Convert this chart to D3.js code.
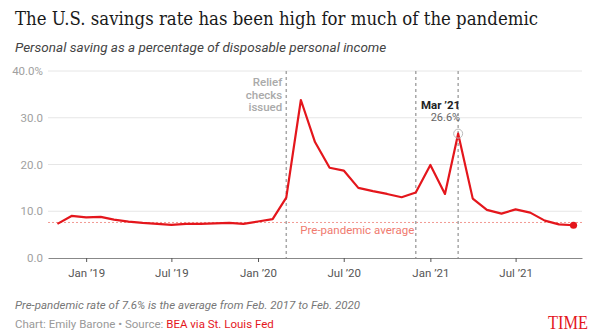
<!DOCTYPE html>
<html>
<head>
<meta charset="utf-8">
<script src="https://cdn.jsdelivr.net/npm/d3@7"></script>
<style>
  body { margin: 0; background: #fff; }
  svg { display: block; font-family: Roboto, sans-serif; }
</style>
</head>
<body>
<svg id="chart" width="600" height="334"></svg>
<script>
// monthly personal saving rate, % of disposable income
const months = [
  "2018-11", "2018-12",
  "2019-01", "2019-02", "2019-03", "2019-04", "2019-05", "2019-06",
  "2019-07", "2019-08", "2019-09", "2019-10", "2019-11", "2019-12",
  "2020-01", "2020-02", "2020-03", "2020-04", "2020-05", "2020-06",
  "2020-07", "2020-08", "2020-09", "2020-10", "2020-11", "2020-12",
  "2021-01", "2021-02", "2021-03", "2021-04", "2021-05", "2021-06",
  "2021-07", "2021-08", "2021-09", "2021-10", "2021-11"
];
const savingRate = [
  7.3, 9.0,
  8.7, 8.8, 8.2, 7.8, 7.5, 7.3,
  7.1, 7.3, 7.3, 7.4, 7.5, 7.3,
  7.8, 8.3, 12.9, 33.8, 24.8, 19.3,
  18.7, 15.0, 14.3, 13.7, 13.0, 14.0,
  19.9, 13.7, 26.6, 12.7, 10.3, 9.5,
  10.4, 9.7, 8.0, 7.2, 7.0
];
const eventMonths = ["2020-03", "2020-12", "2021-03"];
const reliefLabel = ["Relief", "checks", "issued"];
const highlightMonth = "2021-03";
const xTickMonths = ["2019-01", "2019-07", "2020-01", "2020-07", "2021-01", "2021-07"];
const yTicks = [0, 10, 20, 30, 40];
const prePandemicAvg = 7.6;

const svg = d3.select("#chart");
const W = 600, H = 334;
const margin = {top: 71, right: 18, bottom: 76, left: 48};

const parse = d3.timeParse("%Y-%m");
const data = months.map((m, i) => ({date: parse(m), value: savingRate[i]}));

const x = d3.scaleTime()
  .domain([new Date(2018, 9, 12), new Date(2021, 10, 19)])
  .range([margin.left, W - margin.right]);
const y = d3.scaleLinear()
  .domain([0, 40])
  .range([H - margin.bottom, margin.top]);

// title block
svg.append("text")
  .attr("x", 15).attr("y", 25)
  .attr("font-family", "'DejaVu Serif', serif")
  .attr("font-size", 18.5)
  .attr("fill", "#1a1a1a")
  .attr("textLength", 523).attr("lengthAdjust", "spacingAndGlyphs")
  .text("The U.S. savings rate has been high for much of the pandemic");
svg.append("text")
  .attr("x", 15).attr("y", 52)
  .attr("font-size", 13.5).attr("font-style", "italic")
  .attr("fill", "#444")
  .text("Personal saving as a percentage of disposable personal income");

// gridlines + y labels
const grid = svg.append("g");
grid.selectAll("line")
  .data(yTicks.filter(d => d > 0))
  .join("line")
  .attr("x1", margin.left).attr("x2", W - margin.right)
  .attr("y1", d => y(d)).attr("y2", d => y(d))
  .attr("stroke", "#e6e6e6");
grid.selectAll("text")
  .data(yTicks)
  .join("text")
  .attr("x", 43).attr("y", d => y(d) + 4)
  .attr("text-anchor", "end")
  .attr("font-size", 11.5)
  .attr("fill", "#a0a0a0")
  .text(d => d === 40 ? d.toFixed(1) + "%" : d.toFixed(1));

// pre-pandemic average
svg.append("line")
  .attr("x1", margin.left).attr("x2", W - margin.right)
  .attr("y1", y(prePandemicAvg)).attr("y2", y(prePandemicAvg))
  .attr("stroke", "#f29a92").attr("stroke-width", 1)
  .attr("stroke-dasharray", "2,2");
svg.append("text")
  .attr("x", x(parse(eventMonths[0])) + 14)
  .attr("y", y(prePandemicAvg) + 12)
  .attr("font-size", 11.5)
  .attr("fill", "#f07a6f")
  .text("Pre-pandemic average");

// event markers
svg.append("g").selectAll("line")
  .data(eventMonths)
  .join("line")
  .attr("x1", d => x(parse(d))).attr("x2", d => x(parse(d)))
  .attr("y1", y(40)).attr("y2", y(0))
  .attr("stroke", "#a8a8a8").attr("stroke-width", 1.5)
  .attr("stroke-dasharray", "3,3");

const relief = svg.append("text")
  .attr("text-anchor", "end")
  .attr("font-size", 11.5).attr("font-weight", 500)
  .attr("fill", "#aaa");
relief.selectAll("tspan")
  .data(reliefLabel)
  .join("tspan")
  .attr("x", x(parse(eventMonths[0])) - 4)
  .attr("y", (d, i) => y(40) + 15 + i * 12.5)
  .text(d => d);

// x axis
const xAxis = d3.axisBottom(x)
  .tickValues(xTickMonths.map(parse))
  .tickFormat(d3.timeFormat("%b \u2019%y"))
  .tickSize(4).tickSizeOuter(0);
const gx = svg.append("g")
  .attr("transform", `translate(0,${y(0)})`)
  .call(xAxis);
gx.select(".domain").attr("stroke", "#888");
gx.selectAll(".tick line").attr("stroke", "#555");
gx.selectAll(".tick text")
  .attr("font-family", "Roboto, sans-serif")
  .attr("font-size", 11.5).attr("fill", "#555").attr("dy", "1.05em");

// series
svg.append("path")
  .datum(data)
  .attr("fill", "none")
  .attr("stroke", "#e4161c")
  .attr("stroke-width", 2.2)
  .attr("stroke-linejoin", "round")
  .attr("d", d3.line().x(d => x(d.date)).y(d => y(d.value)));

const last = data[data.length - 1];
svg.append("circle")
  .attr("cx", x(last.date)).attr("cy", y(last.value))
  .attr("r", 3.6).attr("fill", "#e4161c");

// highlight callout
const hi = data.find(d => +d.date === +parse(highlightMonth));
svg.append("circle")
  .attr("cx", x(hi.date)).attr("cy", y(hi.value))
  .attr("r", 4.5).attr("fill", "none")
  .attr("stroke", "#bbb").attr("stroke-width", 1);
svg.append("text")
  .attr("x", x(hi.date) + 2).attr("y", y(hi.value) - 25)
  .attr("text-anchor", "end")
  .attr("font-size", 11.5).attr("font-weight", 700).attr("fill", "#222")
  .text(d3.timeFormat("%b \u2019%y")(hi.date));
svg.append("text")
  .attr("x", x(hi.date) + 2).attr("y", y(hi.value) - 12.5)
  .attr("text-anchor", "end")
  .attr("font-size", 11).attr("fill", "#666")
  .text(hi.value.toFixed(1) + "%");

// footer
svg.append("text")
  .attr("x", 15).attr("y", 309)
  .attr("font-size", 11.5).attr("font-style", "italic").attr("fill", "#777")
  .text("Pre-pandemic rate of 7.6% is the average from Feb. 2017 to Feb. 2020");
const credit = svg.append("text")
  .attr("x", 15).attr("y", 328)
  .attr("font-size", 11.5).attr("fill", "#999");
credit.append("tspan").text("Chart: Emily Barone \u2022 Source: ");
credit.append("tspan").attr("fill", "#e4161c").text("BEA via St. Louis Fed");

svg.append("text")
  .attr("x", 588).attr("y", 329)
  .attr("text-anchor", "end")
  .attr("font-family", "'Liberation Serif', serif")
  .attr("font-size", 19)
  .attr("fill", "#e4161c")
  .attr("textLength", 40).attr("lengthAdjust", "spacingAndGlyphs")
  .text("TIME");
</script>
</body>
</html>
